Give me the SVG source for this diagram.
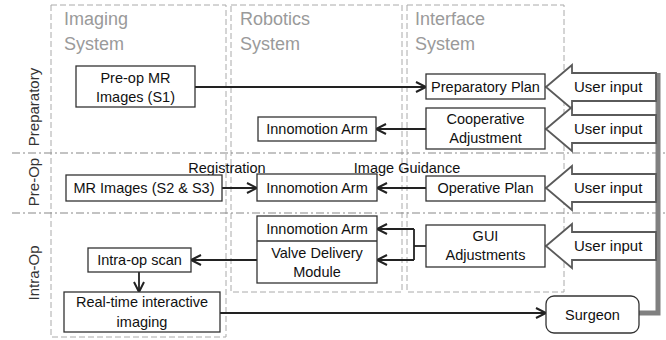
<svg xmlns="http://www.w3.org/2000/svg" width="666" height="340" viewBox="0 0 666 340">
<style>
text{font-family:"Liberation Sans",Arial,sans-serif;fill:#111}
.box{fill:#fff;stroke:#333;stroke-width:1.3}
.lbl{font-size:14.5px;text-anchor:middle}
.sys{fill:none;stroke:#aaa;stroke-width:1;stroke-dasharray:6,3}
.title{font-size:18px;fill:#9a9a9a}
.phase{stroke:#888;stroke-width:1.2;stroke-dasharray:8,3,2,3;fill:none}
.ptxt{font-size:15px;fill:#333;text-anchor:middle}
.conn{fill:none;stroke:#222;stroke-width:1.8}
.ui{fill:#fff;stroke:#5a5a5a;stroke-width:1.8}
.uitxt{font-size:15px}
</style>
<defs>
<marker id="ah" markerUnits="userSpaceOnUse" markerWidth="14" markerHeight="14" refX="11" refY="6" orient="auto">
<path d="M1,1 L11,6 L1,11" fill="none" stroke="#222" stroke-width="2"/>
</marker>
</defs>
<rect width="666" height="340" fill="#fff"/>
<g id="systems">
<rect class="sys" x="51" y="5" width="175" height="332"/>
<rect class="sys" x="231" y="5" width="171" height="287"/>
<rect class="sys" x="407" y="5" width="157" height="287"/>
<text class="title" x="64" y="25">Imaging</text>
<text class="title" x="64" y="50">System</text>
<text class="title" x="240" y="25">Robotics</text>
<text class="title" x="240" y="50">System</text>
<text class="title" x="415" y="25">Interface</text>
<text class="title" x="415" y="50">System</text>
</g>
<g id="phases">
<line class="phase" x1="12" y1="153" x2="666" y2="153"/>
<line class="phase" x1="12" y1="213" x2="666" y2="213"/>
<text class="ptxt" transform="translate(39,107) rotate(-90)">Preparatory</text>
<text class="ptxt" transform="translate(39,182) rotate(-90)">Pre-Op</text>
<text class="ptxt" transform="translate(39,273) rotate(-90)">Intra-Op</text>
</g>
<g id="user-inputs">
<polyline points="639,313 658,313 658,73" fill="none" stroke="#808080" stroke-width="5"/>
<g id="ui1"><polygon class="ui" points="546,87 572,65 572,73 656,73 656,101 572,101 572,109"/><text class="uitxt" x="574" y="92">User input</text></g>
<g id="ui2"><polygon class="ui" points="546,129 572,107 572,115 656,115 656,143 572,143 572,151"/><text class="uitxt" x="574" y="134">User input</text></g>
<g id="ui3"><polygon class="ui" points="546,188 572,166 572,174 656,174 656,202 572,202 572,210"/><text class="uitxt" x="574" y="193">User input</text></g>
<g id="ui4"><polygon class="ui" points="546,246 572,224 572,232 656,232 656,260 572,260 572,268"/><text class="uitxt" x="574" y="251">User input</text></g>
</g>
<g id="connectors">
<line class="conn" x1="195" y1="87" x2="426" y2="87" marker-end="url(#ah)"/>
<line class="conn" x1="426" y1="129" x2="376" y2="129" marker-end="url(#ah)"/>
<line class="conn" x1="222" y1="188" x2="257" y2="188" marker-end="url(#ah)"/>
<line class="conn" x1="426" y1="188" x2="377" y2="188" marker-end="url(#ah)"/>
<polyline class="conn" points="426,246 414,246"/>
<polyline class="conn" points="414,229 414,260"/>
<line class="conn" x1="414" y1="229" x2="377" y2="229" marker-end="url(#ah)"/>
<line class="conn" x1="414" y1="260" x2="377" y2="260" marker-end="url(#ah)"/>
<line class="conn" x1="257" y1="260" x2="191" y2="260" marker-end="url(#ah)"/>
<line class="conn" x1="139" y1="272" x2="139" y2="292" marker-end="url(#ah)"/>
<line class="conn" x1="220" y1="313" x2="546" y2="313" marker-end="url(#ah)"/>
</g>
<g id="preop-mr"><rect class="box" x="76" y="66" width="119" height="41"/><text class="lbl" x="135.5" y="83">Pre-op MR</text><text class="lbl" x="135.5" y="102">Images (S1)</text></g>
<g id="arm-prep"><rect class="box" x="258" y="117" width="118" height="24"/><text class="lbl" x="317" y="134">Innomotion Arm</text></g>
<g id="prep-plan"><rect class="box" x="426" y="74" width="119" height="25"/><text class="lbl" x="485.5" y="91.5">Preparatory Plan</text></g>
<g id="coop-adj"><rect class="box" x="426" y="108" width="119" height="41"/><text class="lbl" x="485.5" y="124">Cooperative</text><text class="lbl" x="485.5" y="143">Adjustment</text></g>
<g id="reg-label"><text class="lbl" x="227" y="173">Registration</text></g>
<g id="ig-label"><text class="lbl" x="407" y="173">Image Guidance</text></g>
<g id="mr-s2s3"><rect class="box" x="66" y="175" width="156" height="26"/><text class="lbl" x="144" y="193">MR Images (S2 &amp; S3)</text></g>
<g id="arm-preop"><rect class="box" x="257" y="174" width="120" height="27"/><text class="lbl" x="317" y="192.5">Innomotion Arm</text></g>
<g id="op-plan"><rect class="box" x="426" y="176" width="119" height="25"/><text class="lbl" x="485.5" y="193">Operative Plan</text></g>
<g id="arm-vdm"><rect class="box" x="257" y="216" width="120" height="67"/><line x1="257" y1="241" x2="377" y2="241" stroke="#333" stroke-width="1.3"/><text class="lbl" x="317" y="234">Innomotion Arm</text><text class="lbl" x="317" y="258">Valve Delivery</text><text class="lbl" x="317" y="277">Module</text></g>
<g id="gui-adj"><rect class="box" x="426" y="225" width="119" height="42"/><text class="lbl" x="485.5" y="241">GUI</text><text class="lbl" x="485.5" y="260">Adjustments</text></g>
<g id="intra-scan"><rect class="box" x="88" y="248" width="103" height="24"/><text class="lbl" x="139.5" y="265">Intra-op scan</text></g>
<g id="realtime"><rect class="box" x="64" y="292" width="156" height="40"/><text class="lbl" x="142" y="307">Real-time interactive</text><text class="lbl" x="142" y="327">imaging</text></g>
<g id="surgeon"><rect class="box" x="546" y="296" width="93" height="37" rx="8"/><text class="lbl" x="592.5" y="320">Surgeon</text></g>
</svg>
